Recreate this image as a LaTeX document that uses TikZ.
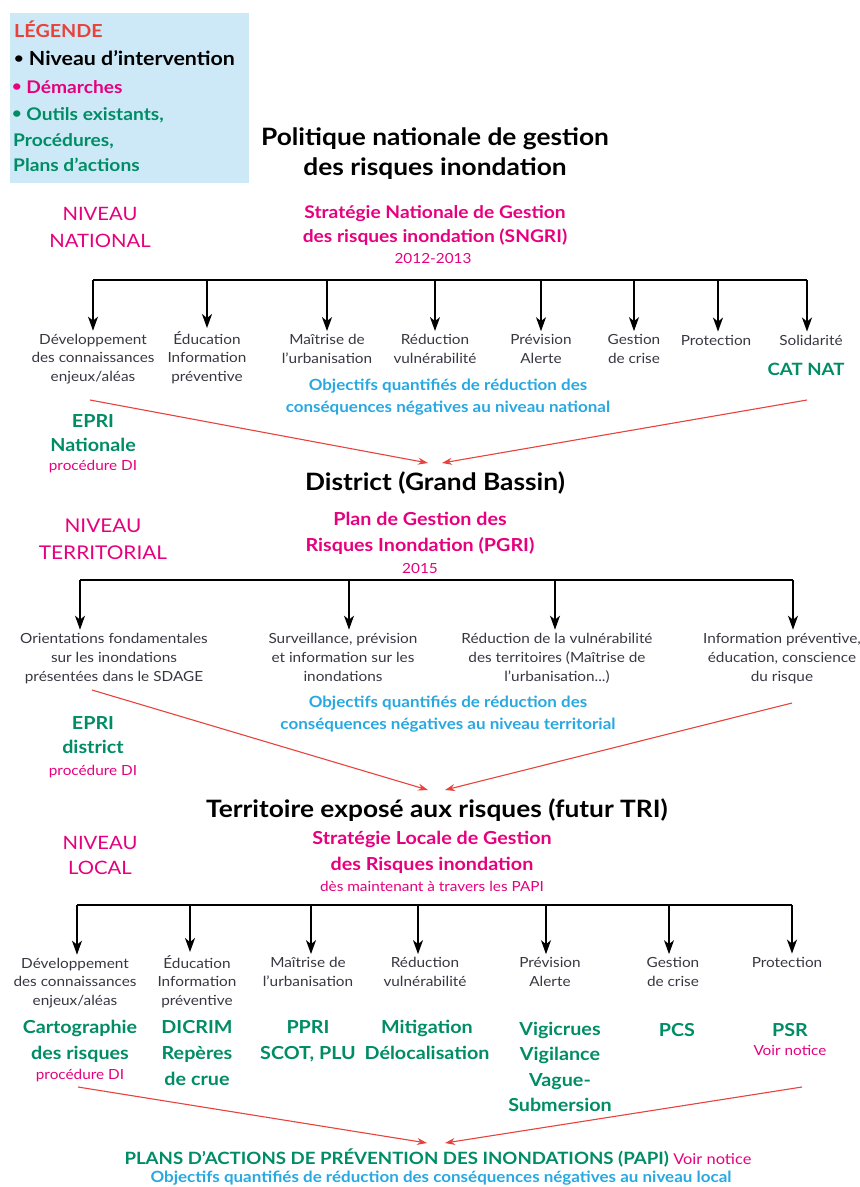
\documentclass[tikz,border=0pt]{standalone}
\usepackage{fontspec}
\setmainfont{Lato}[FakeStretch=1.1]
\usetikzlibrary{arrows.meta,positioning}
\usepackage{xcolor}
\definecolor{risqmag}{RGB}{230,0,126}
\definecolor{risqgreen}{RGB}{0,140,100}
\definecolor{risqblue}{RGB}{40,168,225}
\definecolor{risqred}{RGB}{232,66,60}
\definecolor{risqgray}{RGB}{55,55,65}
\definecolor{legfill}{RGB}{205,233,247}
\newcommand{\legdot}{{\fontsize{15}{15}\selectfont\raisebox{1.2pt}{•}}}

\begin{document}
\begin{tikzpicture}[x=1bp,y=-1bp,
  % Legend box and its lines
  legbox/.style={fill=legfill,minimum width=239bp,minimum height=170bp,inner sep=0pt},
  leg/.style={anchor=base west,inner sep=0pt,font=\fontsize{17.5}{20}\selectfont\bfseries},
  % Black headings (levels of intervention) -- base = last line
  lvl/.style={align=center,inner sep=0pt,anchor=base,
              font=\fontsize{24}{30}\selectfont\bfseries},
  % "NIVEAU ..." tags on the left
  tag/.style={align=center,inner sep=0pt,anchor=base,text=risqmag,
              font=\fontsize{18.5}{27}\selectfont},
  % Magenta approaches (demarches)
  dem/.style={align=center,inner sep=0pt,anchor=base,text=risqmag,
              font=\fontsize{18}{25}\selectfont\bfseries},
  note/.style={inner sep=0pt,anchor=base,text=risqmag,font=\fontsize{14}{16}\selectfont},
  % Gray branch labels
  lbl/.style={align=center,inner sep=0pt,anchor=base,text=risqgray,
              font=\fontsize{14}{18.5}\selectfont},
  % Green tools
  tool/.style={align=center,inner sep=0pt,anchor=base,text=risqgreen,
               font=\fontsize{18}{26}\selectfont\bfseries},
  % Blue objectives
  obj/.style={align=center,inner sep=0pt,anchor=base,text=risqblue,
              font=\fontsize{15.5}{22}\selectfont\bfseries},
  bar/.style={line width=1.5bp,black},
  down/.style={-{Stealth[length=14bp,width=10bp,inset=4bp]},line width=1.5bp,black,
               shorten >=3bp},
  feed/.style={-{Stealth[length=10bp,width=7bp]},line width=1.1bp,draw=risqred}
]
  \useasboundingbox (0,0) rectangle (860,1187);

  % ---- Legend ----
  \node[legbox] (legend) at (129.5,98) {};
  \node[leg,text=risqred,font=\fontsize{18}{20}\selectfont\bfseries] (legTitle) at (14,37) {LÉGENDE};
  \node[leg,font=\fontsize{19.5}{24}\selectfont\bfseries] (legLvl) at (14,65) {\legdot\ Niveau d’intervention};
  \node[leg,text=risqmag]   (legDem)   at (12,93)  {\legdot\ Démarches};
  \node[leg,text=risqgreen] (legOut1)  at (12,120) {\legdot\ Outils existants,};
  \node[leg,text=risqgreen] (legOut2)  at (13,146) {Procédures,};
  \node[leg,text=risqgreen] (legOut3)  at (13,171) {Plans d’actions};

  % ---- National level ----
  \node[lvl]  (pol)      at (435,175)   {Politique nationale de gestion\\des risques inondation};
  \node[tag]  (tagNat)   at (100,247.5) {NIVEAU\\NATIONAL};
  \node[dem,font=\fontsize{17.5}{24}\selectfont\bfseries] (sngri) at (435,242)
    {Stratégie Nationale de Gestion\\des risques inondation (SNGRI)};
  \node[note] (sngriDate) at (433,263) {2012-2013};

  \coordinate (nat1) at (93,280);
  \coordinate (nat2) at (207,280);
  \coordinate (nat3) at (327,280);
  \coordinate (nat4) at (435,280);
  \coordinate (nat5) at (541,280);
  \coordinate (nat6) at (634,280);
  \coordinate (nat7) at (718,280);
  \coordinate (nat8) at (807,280);

  \node[lbl] (natL1) at (93,381)  {Développement\\des connaissances\\enjeux/aléas};
  \node[lbl] (natL2) at (207,381) {Éducation\\Information\\préventive};
  \node[lbl] (natL3) at (327,363) {Maîtrise de\\l’urbanisation};
  \node[lbl] (natL4) at (435,363) {Réduction\\vulnérabilité};
  \node[lbl] (natL5) at (541,363) {Prévision\\Alerte};
  \node[lbl] (natL6) at (634,363) {Gestion\\de crise};
  \node[lbl] (natL7) at (716,345) {Protection};
  \node[lbl] (natL8) at (811,345) {Solidarité};
  \node[tool,font=\fontsize{17}{20}\selectfont\bfseries] (catnat) at (806,375) {CAT NAT};
  \node[obj]  (objNat)  at (448,412) {Objectifs quantifiés de réduction des\\conséquences négatives au niveau national};
  \node[tool,font=\fontsize{18}{23.5}\selectfont\bfseries] (epriNat) at (93,451) {EPRI\\Nationale};
  \node[note] (epriNatDI) at (93,470) {procédure DI};

  \draw[bar]  (nat1) -- (nat8);
  \draw[down] (nat1) -- (nat1 |- natL1.north);
  \draw[down] (nat2) -- (nat2 |- natL2.north);
  \draw[down] (nat3) -- (nat3 |- natL3.north);
  \draw[down] (nat4) -- (nat4 |- natL4.north);
  \draw[down] (nat5) -- (nat5 |- natL5.north);
  \draw[down] (nat6) -- (nat6 |- natL6.north);
  \draw[down] (nat7) -- (nat7 |- natL7.north);
  \draw[down] (nat8) -- (nat8 |- natL8.north);

  % ---- Feeding the district ----
  \coordinate (natOutL) at (90,400);
  \coordinate (natOutR) at (807,400);
  \coordinate (distInL) at (428,463);
  \coordinate (distInR) at (442,463);
  \draw[feed] (natOutL) -- (distInL);
  \draw[feed] (natOutR) -- (distInR);

  % ---- Territorial level ----
  \node[lvl] (district) at (435,490)   {District (Grand Bassin)};
  \node[tag,font=\fontsize{19}{27}\selectfont] (tagTer) at (103,559) {NIVEAU\\TERRITORIAL};
  \node[dem,font=\fontsize{18}{26}\selectfont\bfseries] (pgri) at (420,551)
    {Plan de Gestion des\\Risques Inondation (PGRI)};
  \node[note] (pgriDate) at (420,573) {2015};

  \coordinate (ter1) at (80,580);
  \coordinate (ter2) at (349,580);
  \coordinate (ter3) at (555,580);
  \coordinate (ter4) at (793,580);

  \node[lbl,font=\fontsize{14}{19}\selectfont] (terL1) at (114,681) {Orientations fondamentales\\sur les inondations\\présentées dans le SDAGE};
  \node[lbl,font=\fontsize{14}{19}\selectfont] (terL2) at (343,681) {Surveillance, prévision\\et information sur les\\inondations};
  \node[lbl,font=\fontsize{14}{19}\selectfont] (terL3) at (557,681) {Réduction de la vulnérabilité\\des territoires (Maîtrise de\\l’urbanisation...)};
  \node[lbl,font=\fontsize{14}{19}\selectfont] (terL4) at (782,681) {Information préventive,\\éducation, conscience\\du risque};
  \node[obj]  (objTer)  at (448,729) {Objectifs quantifiés de réduction des\\conséquences négatives au niveau territorial};
  \node[tool,font=\fontsize{18}{24}\selectfont\bfseries] (epriDis) at (93,753) {EPRI\\district};
  \node[note] (epriDisDI) at (93,775) {procédure DI};

  \draw[bar]  (ter1) -- (ter4);
  \draw[down] (ter1) -- (ter1 |- terL1.north);
  \draw[down] (ter2) -- (ter2 |- terL2.north);
  \draw[down] (ter3) -- (ter3 |- terL3.north);
  \draw[down] (ter4) -- (ter4 |- terL4.north);

  % ---- Feeding the exposed territory ----
  \coordinate (terOutL) at (92,690);
  \coordinate (terOutR) at (792,703);
  \coordinate (triInL)  at (428,790);
  \coordinate (triInR)  at (445,790);
  \draw[feed] (terOutL) -- (triInL);
  \draw[feed] (terOutR) -- (triInR);

  % ---- Local level ----
  \node[lvl] (tri)      at (437,817)   {Territoire exposé aux risques (futur TRI)};
  \node[tag,font=\fontsize{18.5}{25}\selectfont] (tagLoc) at (100,874) {NIVEAU\\LOCAL};
  \node[dem,font=\fontsize{18}{26}\selectfont\bfseries] (slgri) at (432,870)
    {Stratégie Locale de Gestion\\des Risques inondation};
  \node[note] (slgriDate) at (432,891) {dès maintenant à travers les PAPI};

  \coordinate (loc1) at (77,905);
  \coordinate (loc2) at (190,905);
  \coordinate (loc3) at (311,905);
  \coordinate (loc4) at (418,905);
  \coordinate (loc5) at (546,905);
  \coordinate (loc6) at (669,905);
  \coordinate (loc7) at (792,905);

  \node[lbl] (locL1) at (75,1005)  {Développement\\des connaissances\\enjeux/aléas};
  \node[lbl] (locL2) at (197,1005) {Éducation\\Information\\préventive};
  \node[lbl] (locL3) at (308,986)  {Maîtrise de\\l’urbanisation};
  \node[lbl] (locL4) at (425,986)  {Réduction\\vulnérabilité};
  \node[lbl] (locL5) at (550,986)  {Prévision\\Alerte};
  \node[lbl] (locL6) at (673,986)  {Gestion\\de crise};
  \node[lbl] (locL7) at (787,967)  {Protection};

  \node[tool] (carto)   at (80,1059)  {Cartographie\\des risques};
  \node[note] (cartoDI) at (80,1079)  {procédure DI};
  \node[tool] (dicrim)  at (197,1085) {DICRIM\\Repères\\de crue};
  \node[tool] (ppri)    at (308,1059) {PPRI\\SCOT, PLU};
  \node[tool] (mitig)   at (427,1059) {Mitigation\\Délocalisation};
  \node[tool,font=\fontsize{18}{25.5}\selectfont\bfseries] (vigi) at (560,1111.5)
    {Vigicrues\\Vigilance\\Vague-\\Submersion};
  \node[tool] (pcs)     at (677,1036) {PCS};
  \node[tool] (psr)     at (790,1036) {PSR};
  \node[note] (psrNote) at (790,1055) {Voir notice};

  \draw[bar]  (loc1) -- (loc7);
  \draw[down] (loc1) -- (loc1 |- locL1.north);
  \draw[down] (loc2) -- (loc2 |- locL2.north);
  \draw[down] (loc3) -- (loc3 |- locL3.north);
  \draw[down] (loc4) -- (loc4 |- locL4.north);
  \draw[down] (loc5) -- (loc5 |- locL5.north);
  \draw[down] (loc6) -- (loc6 |- locL6.north);
  \draw[down] (loc7) -- (loc7 |- locL7.north);

  % ---- Feeding the PAPI ----
  \coordinate (locOutL) at (78,1087);
  \coordinate (locOutR) at (802,1087);
  \coordinate (papiInL) at (427,1143);
  \coordinate (papiInR) at (445,1143);
  \draw[feed] (locOutL) -- (papiInL);
  \draw[feed] (locOutR) -- (papiInR);

  \node[tool,font=\fontsize{17}{18}\selectfont\bfseries] (papi) at (438,1164)
    {PLANS D’ACTIONS DE PRÉVENTION DES INONDATIONS (PAPI) {\fontsize{15}{18}\selectfont\mdseries\color{risqmag}Voir notice}};
  \node[obj] (objLoc) at (441,1182) {Objectifs quantifiés de réduction des conséquences négatives au niveau local};
\end{tikzpicture}
\end{document}
